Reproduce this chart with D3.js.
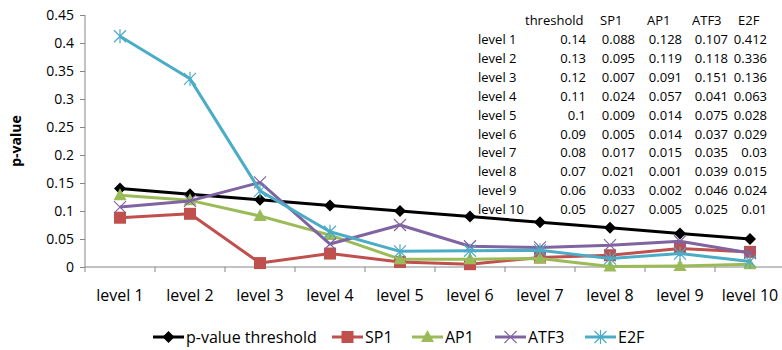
<!DOCTYPE html>
<html>
<head>
<meta charset="utf-8">
<script src="https://cdn.jsdelivr.net/npm/d3@7"></script>
<style>
  body { margin: 0; background: #fff; }
  text { font-family: "Open Sans", "Liberation Sans", sans-serif; fill: #000; }
</style>
</head>
<body>
<script>
// chart data
var levels = ["level 1", "level 2", "level 3", "level 4", "level 5", "level 6", "level 7", "level 8", "level 9", "level 10"];
var threshold = [0.14, 0.13, 0.12, 0.11, 0.1, 0.09, 0.08, 0.07, 0.06, 0.05];
var sp1 = [0.088, 0.095, 0.007, 0.024, 0.009, 0.005, 0.017, 0.021, 0.033, 0.027];
var ap1 = [0.128, 0.119, 0.091, 0.057, 0.014, 0.014, 0.015, 0.001, 0.002, 0.005];
var atf3 = [0.107, 0.118, 0.151, 0.041, 0.075, 0.037, 0.035, 0.039, 0.046, 0.025];
var e2f = [0.412, 0.336, 0.136, 0.063, 0.028, 0.029, 0.03, 0.015, 0.024, 0.01];
var yTicks = [0, 0.05, 0.1, 0.15, 0.2, 0.25, 0.3, 0.35, 0.4, 0.45];
var tableHeads = ["threshold", "SP1", "AP1", "ATF3", "E2F"];

var series = [
  {name: "p-value threshold", values: threshold, color: "#000000", marker: "diamond"},
  {name: "SP1", values: sp1, color: "#C0504D", marker: "square"},
  {name: "AP1", values: ap1, color: "#9BBB59", marker: "triangle"},
  {name: "ATF3", values: atf3, color: "#8064A2", marker: "cross"},
  {name: "E2F", values: e2f, color: "#4BACC6", marker: "star"}
];

var width = 782, height = 350;
var svg = d3.select("body").append("svg")
  .attr("width", width)
  .attr("height", height);

var x = d3.scaleBand().domain(levels).range([85, 785]);
var y = d3.scaleLinear().domain([0, 0.45]).range([267, 15]);

// y axis
var yAxis = svg.append("g")
  .attr("transform", "translate(85,0)")
  .call(d3.axisLeft(y).tickValues(yTicks).tickSize(5).tickPadding(6)
    .tickFormat(function(d){ return d3.format("")(+d.toFixed(2)); }));
yAxis.selectAll("text").style("font-size", "14px");
yAxis.selectAll("line, path").attr("stroke", "#868686");
yAxis.select(".domain").attr("d", "M0,15V267");

// x axis
var xAxis = svg.append("g")
  .attr("transform", "translate(0,267)")
  .call(d3.axisBottom(x).tickSize(0).tickPadding(23));
xAxis.selectAll("text").style("font-size", "16px");
xAxis.select(".domain").attr("stroke", "#868686").attr("d", "M85,0H784");
xAxis.selectAll(".bnd").data(levels.concat(["end"])).enter().append("line")
  .attr("x1", function(d, i){ return 85 + i * x.bandwidth(); })
  .attr("x2", function(d, i){ return 85 + i * x.bandwidth(); })
  .attr("y1", 0).attr("y2", 5).attr("stroke", "#868686");

// y title
svg.append("text")
  .attr("transform", "translate(21,141) rotate(-90)")
  .attr("text-anchor", "middle")
  .style("font-size", "14px").style("font-weight", "bold")
  .text("p-value");

function drawMarker(g, type, color) {
  if (type == "diamond") {
    g.append("path").attr("d", "M0,-6L6,0L0,6L-6,0Z").attr("fill", color);
  } else if (type == "square") {
    g.append("rect").attr("x", -6).attr("y", -6).attr("width", 12).attr("height", 12).attr("fill", color);
  } else if (type == "triangle") {
    g.append("path").attr("d", "M0,-7L6.5,5L-6.5,5Z").attr("fill", color);
  } else if (type == "cross") {
    g.append("path").attr("d", "M-6,-6L6,6M-6,6L6,-6").attr("stroke", color).attr("stroke-width", 1.2);
  } else {
    g.append("path").attr("d", "M-6,-6L6,6M-6,6L6,-6M0,-7V7").attr("stroke", color).attr("stroke-width", 1.2);
  }
}

var line = d3.line()
  .x(function(d, i){ return x(levels[i]) + x.bandwidth() / 2; })
  .y(function(d){ return y(d); });

series.forEach(function(s){
  svg.append("path")
    .datum(s.values)
    .attr("fill", "none")
    .attr("stroke", s.color)
    .attr("stroke-width", 3)
    .attr("stroke-linejoin", "round")
    .attr("d", line);
  s.values.forEach(function(v, i){
    var g = svg.append("g")
      .attr("transform", "translate(" + (x(levels[i]) + x.bandwidth() / 2) + "," + y(v) + ")");
    drawMarker(g, s.marker, s.color);
  });
});

// data table in the corner
var colX = [586, 635, 682, 728, 767];
var headX = [525, 600, 647, 692, 738];
var table = svg.append("g").style("font-size", "13px");
tableHeads.forEach(function(h, j){
  table.append("text").attr("x", headX[j]).attr("y", 25).text(h);
});
var cols = [threshold, sp1, ap1, atf3, e2f];
levels.forEach(function(l, i){
  var ty = 44 + i * 18.9;
  table.append("text").attr("x", 478).attr("y", ty).text(l);
  cols.forEach(function(c, j){
    table.append("text").attr("x", colX[j]).attr("y", ty)
      .attr("text-anchor", "end").text(c[i]);
  });
});

// legend
var legX = [153, 332, 412, 495, 585];
var legend = svg.append("g").attr("transform", "translate(0,337)");
series.forEach(function(s, i){
  var g = legend.append("g").attr("transform", "translate(" + legX[i] + ",0)");
  g.append("line").attr("x1", 0).attr("x2", 31).attr("y1", 0).attr("y2", 0)
    .attr("stroke", s.color).attr("stroke-width", 3);
  var m = g.append("g").attr("transform", "translate(15.5,0)");
  drawMarker(m, s.marker, s.color);
  g.append("text").attr("x", 33).attr("y", 6).style("font-size", "16px").text(s.name);
});
</script>
</body>
</html>
